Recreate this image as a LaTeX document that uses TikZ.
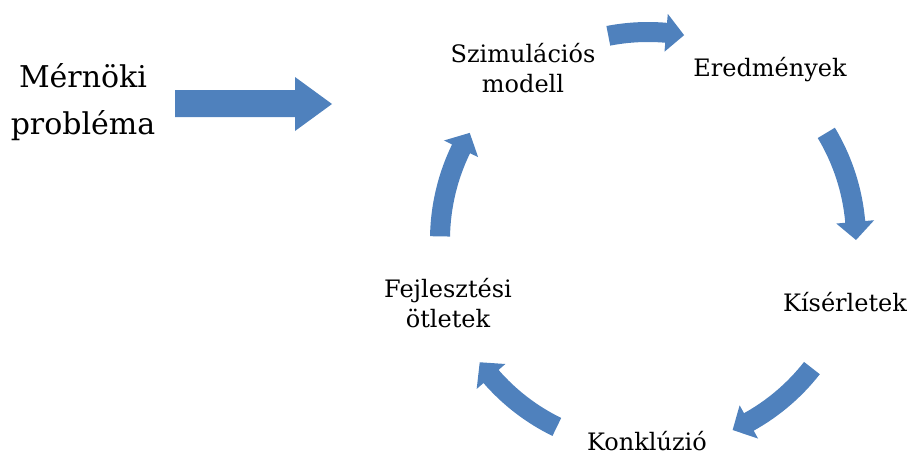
\documentclass[tikz,border=0pt]{standalone}
\usepackage{fontspec}
\setmainfont{DejaVu Serif}
\usetikzlibrary{calc}

\definecolor{officeblue}{RGB}{79,129,189}

% curved block arrow on the cycle: #1 start angle, #2 tip angle
\newcommand\cyclearrow[2]{%
  \fill[flow] ($(c)+(#1:218)$) arc[start angle=#1, end angle=#2-5, radius=218]
    -- ($(c)+(#2-5:227)$) -- ($(c)+(#2:208)$) -- ($(c)+(#2-5:189)$)
    -- ($(c)+(#2-5:198)$) arc[start angle=#2-5, end angle=#1, radius=198]
    -- cycle;}

\begin{document}
\begin{tikzpicture}[
  x=1pt, y=-1pt,
  flow/.style={fill=officeblue},
  stage/.style={align=center, inner sep=1pt, font=\fontsize{24}{30}\selectfont},
  big/.style={align=center, font=\fontsize{30}{47}\selectfont},
]
\useasboundingbox (0,0) rectangle (909,455);

% --- problem and input arrow ---
\node[big] (prob) at (83,102) {Mérnöki\\probléma};
\fill[flow] (175,90) -- (295,90) -- (295,77) -- (332,104) -- (295,131)
  -- (295,117) -- (175,117) -- cycle;

% --- cycle stages ---
\coordinate (c) at (648,240);
\node[stage] (sim)  at (523,68)  {Szimulációs\\modell};
\node[stage] (res)  at (770,70)  {Eredmények};
\node[stage] (exp)  at (845,302) {Kísérletek};
\node[stage] (conc) at (647,441) {Konklúzió};
\node[stage] (idea) at (448,303) {Fejlesztési\\ötletek};

% --- cycle arrows ---
\cyclearrow{-101}{-80}
\cyclearrow{-31}{0}
\cyclearrow{38}{66}
\cyclearrow{116}{144}
\cyclearrow{181}{211}

\end{tikzpicture}
\end{document}
